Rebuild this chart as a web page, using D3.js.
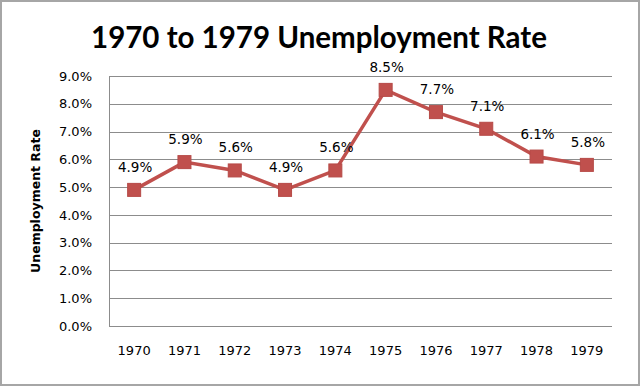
<!DOCTYPE html>
<html>
<head>
<meta charset="utf-8">
<script src="https://cdn.jsdelivr.net/npm/d3@7"></script>
<style>
  body { margin: 0; background: #fff; }
  .tick text { font-family: "DejaVu Sans", sans-serif; fill: #000; }
</style>
</head>
<body>
<div id="chart"></div>
<script>
// chart data
var years = ["1970", "1971", "1972", "1973", "1974", "1975", "1976", "1977", "1978", "1979"];
var rates = [4.9, 5.9, 5.6, 4.9, 5.6, 8.5, 7.7, 7.1, 6.1, 5.8];
var yTicks = [0, 1, 2, 3, 4, 5, 6, 7, 8, 9];

var svgWidth = 640;
var svgHeight = 386;

var margin = { top: 76, bottom: 60, left: 109, right: 28 };
var chartWidth = svgWidth - margin.left - margin.right;
var chartHeight = svgHeight - margin.top - margin.bottom;

var svg = d3.select("#chart")
  .append("svg")
  .attr("width", svgWidth)
  .attr("height", svgHeight);

// outer frame
svg.append("rect")
  .attr("x", 1).attr("y", 1)
  .attr("width", svgWidth - 2).attr("height", svgHeight - 2)
  .attr("fill", "#fff")
  .attr("stroke", "#a6a6a6")
  .attr("stroke-width", 2);

// title
svg.append("text")
  .attr("x", 319)
  .attr("y", 48)
  .attr("text-anchor", "middle")
  .style("font-family", "Lato, sans-serif")
  .style("font-weight", "bold")
  .style("font-size", "29.5px")
  .text("1970 to 1979 Unemployment Rate");

var chartGroup = svg.append("g")
  .attr("transform", `translate(${margin.left}, ${margin.top})`);

var xScale = d3.scaleBand()
  .domain(years)
  .range([0, chartWidth]);

var yScale = d3.scaleLinear()
  .domain([0, 9])
  .range([chartHeight, 0]);

// gridlines
chartGroup.append("g")
  .selectAll("line")
  .data(yTicks)
  .enter()
  .append("line")
  .attr("x1", 0)
  .attr("x2", chartWidth)
  .attr("y1", d => Math.round(yScale(d)) + 0.5)
  .attr("y2", d => Math.round(yScale(d)) + 0.5)
  .attr("stroke", "#8c8c8c")
  .attr("stroke-width", 1);

// y axis
var leftAxis = d3.axisLeft(yScale)
  .tickValues(yTicks)
  .tickSize(0)
  .tickPadding(17)
  .tickFormat(d => d.toFixed(1) + "%");

var yAxisG = chartGroup.append("g").call(leftAxis);
yAxisG.select(".domain").attr("stroke", "#8c8c8c").attr("d", `M0.5,0V${chartHeight}`);
yAxisG.selectAll("text").style("font-size", "13px");

// x axis
var bottomAxis = d3.axisBottom(xScale)
  .tickSize(0)
  .tickPadding(20);

var xAxisG = chartGroup.append("g")
  .attr("transform", `translate(0, ${chartHeight})`)
  .call(bottomAxis);
xAxisG.select(".domain").remove();
xAxisG.selectAll("text").style("font-size", "13px");

// y axis title
svg.append("text")
  .attr("transform", `translate(40, ${margin.top + chartHeight / 2}) rotate(-90)`)
  .attr("text-anchor", "middle")
  .style("font-family", "DejaVu Sans, sans-serif")
  .style("font-weight", "bold")
  .style("font-size", "12.5px")
  .text("Unemployment Rate");

var cx = d => xScale(d) + xScale.bandwidth() / 2;

// line
var line = d3.line()
  .x((d, i) => cx(years[i]))
  .y(d => yScale(d));

chartGroup.append("path")
  .datum(rates)
  .attr("d", line)
  .attr("fill", "none")
  .attr("stroke", "#c0504d")
  .attr("stroke-width", 3.5);

// markers
chartGroup.selectAll("rect.marker")
  .data(rates)
  .enter()
  .append("rect")
  .attr("class", "marker")
  .attr("x", (d, i) => cx(years[i]) - 6.5)
  .attr("y", d => yScale(d) - 6.5)
  .attr("width", 13)
  .attr("height", 13)
  .attr("fill", "#c0504d")
  .attr("stroke", "#b64a47");

// data labels
chartGroup.selectAll("text.label")
  .data(rates)
  .enter()
  .append("text")
  .attr("class", "label")
  .attr("x", (d, i) => cx(years[i]) + 1)
  .attr("y", d => yScale(d) - 18)
  .attr("text-anchor", "middle")
  .style("font-family", "DejaVu Sans, sans-serif")
  .style("font-size", "13.5px")
  .text(d => d.toFixed(1) + "%");
</script>
</body>
</html>
